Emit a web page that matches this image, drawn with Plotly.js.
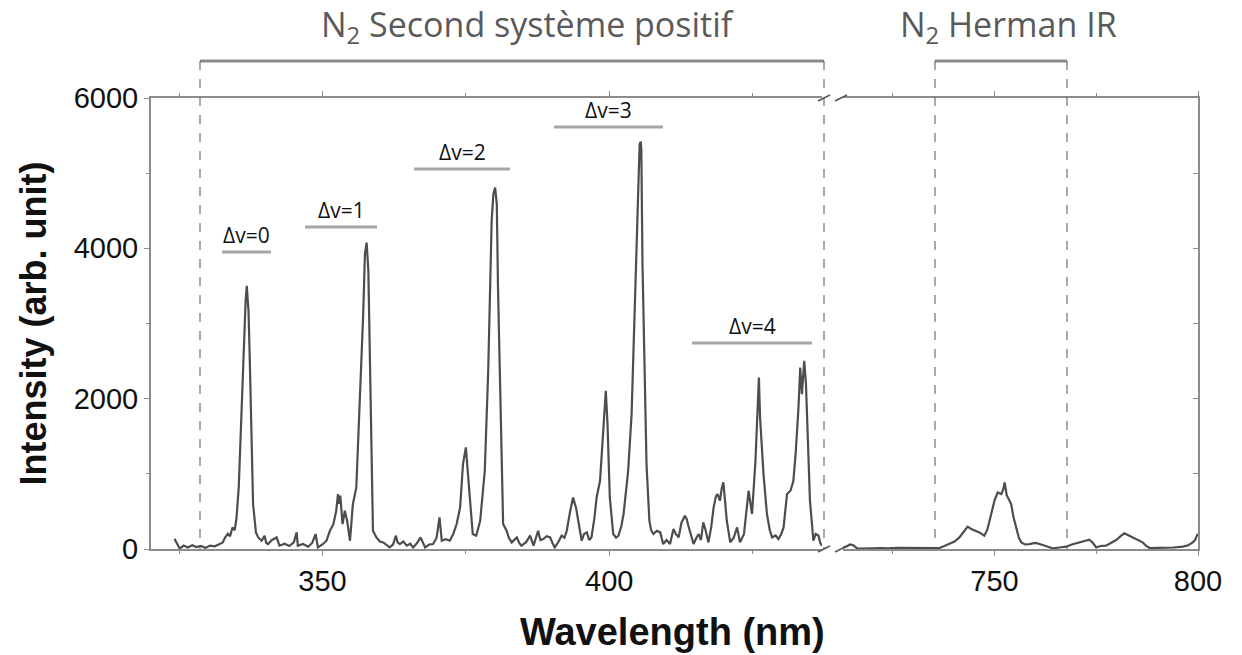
<!DOCTYPE html>
<html>
<head>
<meta charset="utf-8">
<script src="https://cdn.plot.ly/plotly-3.0.1.min.js"></script>
<style>html,body{margin:0;padding:0;background:#fff;}#chart{width:1242px;height:655px;}</style>
</head>
<body>
<div id="chart"></div>
<script>
// ---- Data: N2 second positive system (UV/violet part) ----
const wavelengthUV = [324.2,325.1,325.8,326.5,327.3,328.0,328.8,329.6,330.4,331.2,331.9,332.6,333.0,333.5,333.9,334.3,334.7,335.0,335.4,335.9,336.3,336.6,336.8,337.1,337.3,337.6,337.9,338.4,338.8,339.4,339.9,340.2,340.5,341.2,342.0,342.5,343.4,344.2,345.0,345.5,345.7,346.6,347.5,348.2,348.8,349.2,350.0,350.7,351.3,351.9,352.4,352.7,352.9,353.1,353.3,353.5,353.9,354.3,354.8,355.3,355.9,356.5,357.1,357.4,357.7,358.0,358.3,358.6,358.8,359.4,360.0,360.6,361.2,361.7,362.3,362.8,363.1,363.5,364.1,364.7,365.3,365.8,366.5,367.1,367.9,368.6,369.3,369.9,370.4,370.8,371.5,372.2,372.8,373.4,374.0,374.5,375.0,375.3,375.6,375.9,376.2,376.8,377.5,378.3,378.9,379.5,379.8,380.1,380.4,380.6,380.9,381.2,381.5,382.1,382.5,383.0,383.4,383.9,384.3,384.7,385.5,386.2,386.8,387.6,388.0,388.5,389.1,389.7,390.1,390.5,391.1,391.7,392.2,392.6,393.2,393.7,394.0,394.2,394.6,395.2,395.6,396.1,396.5,396.9,397.4,397.8,398.4,399.0,399.4,399.7,400.1,400.7,401.2,401.6,402.1,402.5,403.3,403.9,404.5,404.9,405.1,405.3,405.5,405.6,405.8,406.1,406.5,407.0,407.3,407.7,408.3,408.9,409.4,410.0,410.6,411.2,411.6,412.1,412.6,413.2,413.5,413.8,414.2,414.7,415.2,415.6,416.0,416.4,416.8,417.3,417.8,418.2,418.6,418.9,419.3,419.6,419.9,420.2,420.5,421.1,421.7,422.3,422.8,423.5,424.3,424.9,425.5,426.1,426.3,426.9,427.5,428.0,428.4,429.0,429.5,430.0,430.4,431.0,431.6,432.1,432.5,433.0,433.3,433.6,434.0,434.3,434.5,435.0,435.6,436.0,436.5,436.8,437.1];
const intensityUV = [137,4,45,20,50,25,40,15,45,35,60,88,150,203,170,287,250,403,819,1932,2814,3302,3501,3168,2593,1484,598,221,154,110,177,80,66,120,154,44,70,40,90,221,44,66,30,80,199,21,60,110,243,330,509,731,600,709,500,332,509,376,110,598,819,1928,3125,3923,4077,3701,2371,1041,243,154,100,88,50,21,60,177,90,66,100,44,70,21,80,154,21,60,66,150,420,110,130,110,200,332,553,1130,1351,1041,686,400,199,177,376,1041,2371,4366,4721,4809,4588,3500,2500,1130,332,243,150,88,120,154,80,44,90,177,44,243,120,133,170,154,80,21,90,177,150,243,509,686,600,553,376,110,200,221,120,154,400,686,908,1662,2105,1662,686,199,150,177,300,465,1041,1795,3346,4322,5000,5386,5420,5297,3790,2460,1130,376,250,199,243,221,66,120,66,266,200,154,350,443,400,310,200,66,150,199,120,354,250,88,300,553,700,731,642,800,886,600,376,88,150,287,88,200,775,465,1174,2282,1750,997,465,250,154,180,133,200,287,731,775,900,1263,1883,2415,2061,2504,2200,1662,642,110,200,177,80,44];

// ---- Data: N2 Herman IR (near-infrared part) ----
const wavelengthIR = [712.3,713.6,714.5,715.2,716.4,718.0,720.1,722.0,724.0,726.0,728.3,730.5,732.6,734.8,736.5,737.7,738.9,740.2,741.4,742.5,743.4,744.3,745.3,746.3,747.5,748.2,748.8,749.4,750.0,750.8,751.7,752.2,752.5,753.0,753.3,754.1,754.7,755.3,756.0,756.6,757.5,758.6,760.0,761.1,762.5,764.3,766.0,767.6,769.0,770.9,772.0,773.3,774.2,775.0,776.0,777.4,778.6,779.9,781.0,781.9,783.0,784.0,785.2,786.4,787.3,788.1,790.0,792.2,794.0,796.3,797.6,798.7,799.3,799.7,800.0];
const intensityIR = [10,31,60,53,5,10,10,12,8,15,15,10,18,13,13,40,66,100,154,230,297,266,240,221,177,250,376,520,642,753,731,800,886,720,686,598,420,287,150,88,60,66,80,66,40,10,20,31,60,88,100,124,80,21,40,44,80,120,170,208,180,154,120,88,40,13,15,13,20,31,50,88,120,177,200];

// ---- Labels ----
const bandLabels = ["Δv=0","Δv=1","Δv=2","Δv=3","Δv=4"];
const systemLabels = ["N<sub>2</sub> Second système positif","N<sub>2</sub> Herman IR"];
const yTickVals = [0,2000,4000,6000];
const xTickValsUV = [350,400];
const xTickValsIR = [750,800];

// ---- Layout helpers (pixel -> paper) ----
const L=151, R=1198, T=98, B=549;
const W=R-L, H=B-T;
const px = p => (p-L)/W;
const py = p => (B-p)/H;

const axisColor = '#8c8c8c';
const tickFont = {family:'"Liberation Sans", Arial, sans-serif', size:29, color:'#111'};

const shapes = [];
const annotations = [];

function hline(x0,x1,y,color,width){
  shapes.push({type:'line',xref:'paper',yref:'paper',x0:px(x0),x1:px(x1),y0:py(y),y1:py(y),line:{color:color,width:width}});
}
function vdash(x,y0,y1){
  shapes.push({type:'line',xref:'paper',yref:'paper',x0:px(x),x1:px(x),y0:py(y0),y1:py(y1),line:{color:'#555',width:1,dash:'dash'}});
}
function slash(cx,cy){
  shapes.push({type:'line',xref:'paper',yref:'paper',x0:px(cx-6),x1:px(cx+6),y0:py(cy+3),y1:py(cy-3),line:{color:'#555',width:1.5}});
}
function label(x,y,text,font,ya){
  annotations.push({xref:'paper',yref:'paper',x:px(x),y:py(y),xanchor:'center',yanchor:ya||'middle',text:text,showarrow:false,font:font});
}

// System brackets
hline(200,824,61,'#8a8a8a',3); vdash(200,61,549); vdash(824,61,549);
hline(935,1067,61,'#8a8a8a',3); vdash(935,61,549); vdash(1067,61,549);
const headFont = {family:'"Open Sans", sans-serif',size:34,color:'#5a5a5a'};
label(527,26,systemLabels[0],headFont);
label(1008,26,systemLabels[1],headFont);

// Band markers (Δv)
const bandGeom = [[222,271,252],[305,377,227],[414,510,169],[554,663,127],[692,812,343]];
const bandFont = {family:'"Open Sans", sans-serif',size:21,color:'#111'};
bandGeom.forEach((g,i)=>{
  hline(g[0],g[1],g[2],'#a6a6a6',3);
  label((g[0]+g[1])/2,g[2]-1,bandLabels[i],bandFont,'bottom');
});

// Axis break marks
slash(824,98); slash(841,98); slash(824,549); slash(841,549);

// X title (spans both panels)
label(672,632,'<b>Wavelength (nm)</b>',{family:'"Liberation Sans", Arial, sans-serif',size:38,color:'#111'});

const d1 = [0,(822-L)/W];
const d2 = [(843-L)/W,1];

const traces = [
  {x:wavelengthUV,y:intensityUV,type:'scatter',mode:'lines',line:{color:'#4d4d4d',width:2.2},xaxis:'x',yaxis:'y',hoverinfo:'x+y'},
  {x:wavelengthIR,y:intensityIR,type:'scatter',mode:'lines',line:{color:'#4d4d4d',width:2.2},xaxis:'x2',yaxis:'y2',hoverinfo:'x+y'}
];

const layout = {
  width:1242,height:655,
  margin:{l:L,r:1242-R,t:T,b:655-B},
  paper_bgcolor:'#fff',plot_bgcolor:'#fff',
  showlegend:false,
  xaxis:{domain:d1,range:[320.1,437.1],tickvals:xTickValsUV,ticktext:xTickValsUV.map(String),ticks:'outside',ticklen:5,tickcolor:axisColor,
    showline:true,linecolor:axisColor,linewidth:2,mirror:'ticks',showgrid:false,zeroline:false,tickfont:tickFont,
    minor:{tickvals:[325,375,425],ticks:'outside',ticklen:3,tickcolor:axisColor},anchor:'y'},
  xaxis2:{domain:d2,range:[712.8,800],tickvals:xTickValsIR,ticktext:xTickValsIR.map(String),ticks:'outside',ticklen:5,tickcolor:axisColor,
    showline:true,linecolor:axisColor,linewidth:2,mirror:'ticks',showgrid:false,zeroline:false,tickfont:tickFont,
    minor:{tickvals:[725,775],ticks:'outside',ticklen:3,tickcolor:axisColor},anchor:'y2'},
  yaxis:{domain:[0,1],range:[0,6000],tickvals:yTickVals,ticktext:yTickVals.map(String),ticks:'outside',ticklen:5,tickcolor:axisColor,
    showline:true,linecolor:axisColor,linewidth:2,mirror:false,showgrid:false,zeroline:false,tickfont:tickFont,
    minor:{dtick:1000,ticks:'outside',ticklen:3,tickcolor:axisColor},anchor:'x',
    title:{text:'<b>Intensity (arb. unit)</b>',font:{family:'"Liberation Sans", Arial, sans-serif',size:36,color:'#111'},standoff:16}},
  yaxis2:{domain:[0,1],range:[0,6000],side:'right',anchor:'x2',showticklabels:false,ticks:'inside',ticklen:5,tickcolor:axisColor,dtick:1000,
    showline:true,linecolor:axisColor,linewidth:2,showgrid:false,zeroline:false},
  shapes:shapes,
  annotations:annotations
};

Plotly.newPlot('chart',traces,layout,{displayModeBar:false,staticPlot:true});
</script>
</body>
</html>
